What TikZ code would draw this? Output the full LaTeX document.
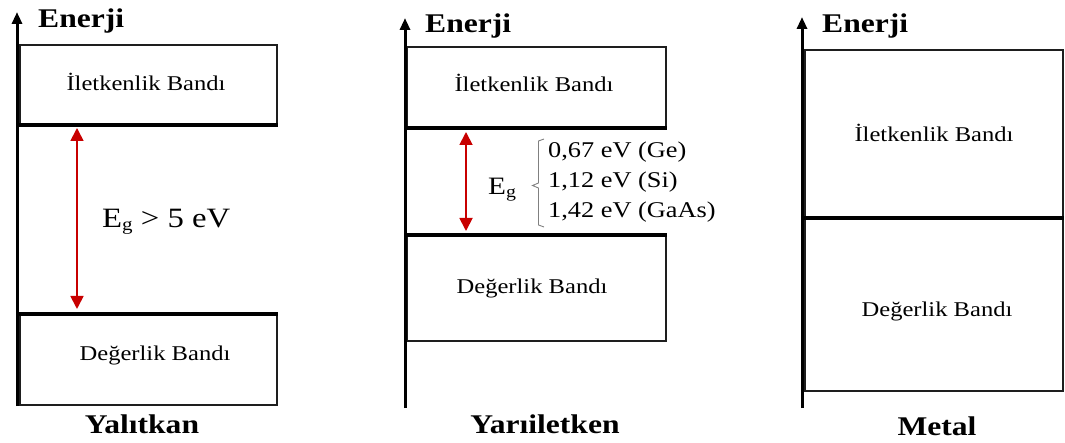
\documentclass[tikz,border=0pt]{standalone}
\usepackage{fontspec}
\setmainfont{Liberation Serif}[FakeStretch=1.17]
\usetikzlibrary{arrows.meta}
\definecolor{arrred}{RGB}{200,0,0}
\definecolor{linegray}{RGB}{30,30,30}
\begin{document}
\begin{tikzpicture}[x=1pt,y=-1pt,
  thinbox/.style={draw=linegray, line width=1.8pt},
  bandedge/.style={draw=black, line width=4.5pt, line cap=butt},
  axisline/.style={draw=black, line width=3pt, -{Triangle[length=12pt,width=10pt]}},
  gaparrow/.style={draw=arrred, line width=1.8pt, {Triangle[length=13pt,width=13pt]}-{Triangle[length=13pt,width=13pt]}},
  bandlabel/.style={font=\fontsize{21}{24}\selectfont, anchor=base, inner sep=0pt},
  titlelabel/.style={font=\fontsize{27}{30}\selectfont\bfseries, anchor=base, inner sep=0pt},
  enerji/.style={font=\fontsize{27}{30}\selectfont\bfseries, anchor=base west, inner sep=0pt},
  eglist/.style={font=\fontsize{22.5}{26}\selectfont, anchor=base west, inner sep=0pt},
]
\useasboundingbox (0,0) rectangle (1065,443);

% ---------- Panel 1: Yalitkan ----------
\draw[thinbox] (20,45) rectangle (277,125);
\draw[thinbox] (20,314) rectangle (277,405);
\draw[bandedge] (17,125) -- (278,125);
\draw[bandedge] (17,314) -- (278,314);
\coordinate (ax1b) at (17,406);
\coordinate (ax1t) at (17,12);
\draw[axisline] (ax1b) -- (ax1t);
\node[enerji] (en1) at (38,28) {Enerji};
\node[bandlabel] (ib1) at (146,91) {İletkenlik Bandı};
\node[bandlabel] (db1) at (155,360) {Değerlik Bandı};
\coordinate (g1t) at (77,128);
\coordinate (g1b) at (77,309);
\draw[gaparrow] (g1t) -- (g1b);
\node[anchor=base west, inner sep=0pt, font=\fontsize{28}{30}\selectfont] (eg1) at (102,228)
  {E\raisebox{-3pt}{\fontsize{18}{20}\selectfont g} \textgreater{} 5 eV};
\node[titlelabel] (t1) at (142,433) {Yalıtkan};

% ---------- Panel 2: Yariiletken ----------
\draw[thinbox] (407,47) rectangle (666,128);
\draw[thinbox] (407,235) rectangle (666,341);
\draw[bandedge] (405,128) -- (667,128);
\draw[bandedge] (405,235) -- (667,235);
\coordinate (ax2b) at (405,408);
\coordinate (ax2t) at (405,18);
\draw[axisline] (ax2b) -- (ax2t);
\node[enerji] (en2) at (425,33) {Enerji};
\node[bandlabel] (ib2) at (534,92) {İletkenlik Bandı};
\node[bandlabel] (db2) at (532,294) {Değerlik Bandı};
\coordinate (g2t) at (466,132);
\coordinate (g2b) at (466,231);
\draw[gaparrow] (g2t) -- (g2b);
\node[anchor=base west, inner sep=0pt, font=\fontsize{25}{28}\selectfont] (eg2) at (488,195)
  {E\raisebox{-3pt}{\fontsize{17}{19}\selectfont g}};
\draw[draw=gray, line width=0.9pt]
  (544,139) -- (538.5,141) -- (538.5,183) -- (532.5,185.5) -- (538.5,188) -- (538.5,225) -- (544,227);
\node[eglist] (v1) at (548,158) {0,67 eV (Ge)};
\node[eglist] (v2) at (548,188) {1,12 eV (Si)};
\node[eglist] (v3) at (548,218) {1,42 eV (GaAs)};
\node[titlelabel] (t2) at (545,433) {Yarıiletken};

% ---------- Panel 3: Metal ----------
\draw[thinbox] (805,50) rectangle (1063,391);
\draw[bandedge] (802,218) -- (1064,218);
\coordinate (ax3b) at (802,408);
\coordinate (ax3t) at (802,17);
\draw[axisline] (ax3b) -- (ax3t);
\node[enerji] (en3) at (822,33) {Enerji};
\node[bandlabel] (ib3) at (934,142) {İletkenlik Bandı};
\node[bandlabel] (db3) at (937,317) {Değerlik Bandı};
\node[titlelabel] (t3) at (937,435) {Metal};
\end{tikzpicture}
\end{document}
